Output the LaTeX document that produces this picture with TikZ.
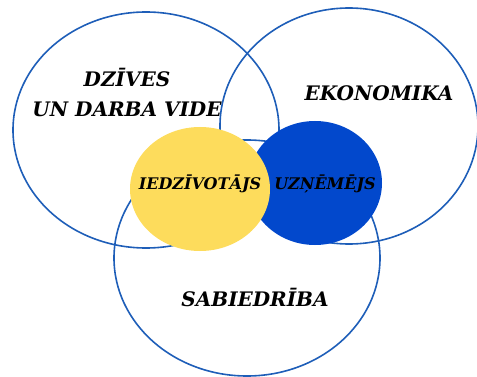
\documentclass[tikz,border=0pt]{standalone}
\usepackage{fontspec}
\setmainfont{DejaVu Serif}
\usepackage{xcolor}
\definecolor{ringblue}{RGB}{30,94,184}
\definecolor{sunyellow}{RGB}{253,220,92}
\definecolor{deepblue}{RGB}{2,72,204}
\begin{document}
\begin{tikzpicture}[x=1pt,y=-1pt]
			\newcommand{\mybigfont}{%
				\fontsize{20}{30}\selectfont\bfseries\itshape
			}\newcommand{\mysmallfont}{%
				\fontsize{16}{20}\selectfont\bfseries\itshape
			}
			\tikzset{ring/.style={draw=ringblue, line width=1.6pt}}
			\useasboundingbox (0,0) rectangle (477,377);
			%Centres of the three big circles
			\coordinate (life) at (146,130);
			\coordinate (economy) at (349,126);
			\coordinate (society) at (247,258);
			%Centres of the two small discs
			\coordinate (resident) at (200,189);
			\coordinate (business) at (315,183);
			%Big circles
			\draw [ring] (life) ellipse [x radius=133, y radius=118];
			\draw [ring] (economy) ellipse [x radius=129, y radius=118];
			\draw [ring] (society) ellipse [x radius=133, y radius=118];
			%Small discs, yellow on top
			\fill [deepblue] (business) ellipse [x radius=67, y radius=62];
			\fill [sunyellow] (resident) ellipse [x radius=70, y radius=62];
			%The labels
			\node [align=center, font=\mybigfont] (lifelabel) at (127,93) {DZĪVES\\UN DARBA VIDE};
			\node [font=\mybigfont] (economylabel) at (379,93) {EKONOMIKA};
			\node [font=\mybigfont] (societylabel) at (255,298) {SABIEDRĪBA};
			\node [font=\mysmallfont] (residentlabel) at (200,184) {IEDZĪVOTĀJS};
			\node [font=\mysmallfont] (businesslabel) at (325,184) {UZŅĒMĒJS};
			\end{tikzpicture}
\end{document}
